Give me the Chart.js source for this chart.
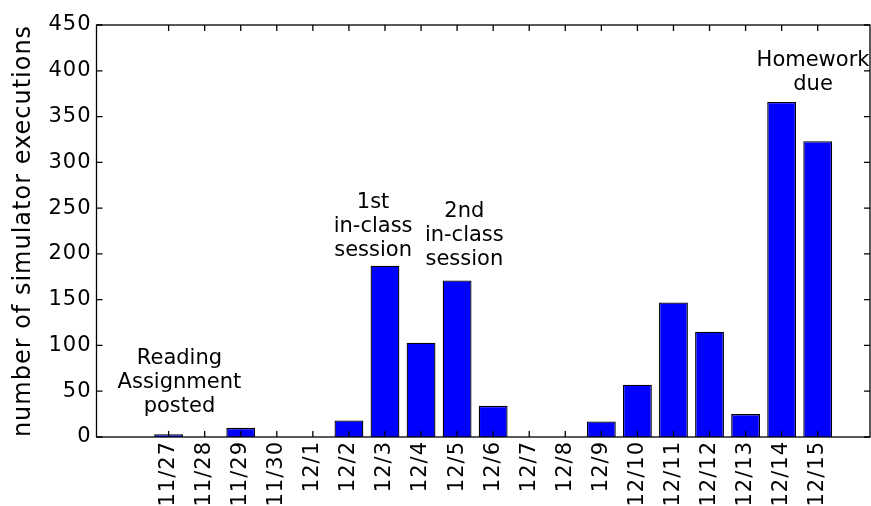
<!DOCTYPE html>
<html>
<head>
<meta charset="utf-8">
<script src="https://cdn.jsdelivr.net/npm/chart.js@4.4.0/dist/chart.umd.min.js"></script>
<style>
  html, body { margin: 0; padding: 0; background: #fff; }
  #wrap { width: 871px; height: 506px; }
</style>
</head>
<body>
<div id="wrap"><canvas id="chart"></canvas></div>
<script>
const dates = ['11/27', '11/28', '11/29', '11/30', '12/1', '12/2', '12/3', '12/4', '12/5', '12/6',
    '12/7', '12/8', '12/9', '12/10', '12/11', '12/12', '12/13', '12/14', '12/15'];
const executions = [3, 0, 10, 0, 0, 18, 187, 103, 171, 34, 0, 0, 17, 57, 147, 115, 25, 366, 323];

const yTicks = [0, 50, 100, 150, 200, 250, 300, 350, 400, 450];

// annotations, anchored in data coordinates (middle of the text block)
const noteLines = [
    ['Reading', 'Assignment', 'posted'],
    ['1st', 'in-class', 'session'],
    ['2nd', 'in-class', 'session'],
    ['Homework', 'due']
];
const noteX = [0.3, 5.67, 8.2, 17.87];
const noteY = [59, 230, 220, 398];

const FONT = "'DejaVu Sans', sans-serif";

// old matplotlib text renders a bit wider, spread the axis text out a little
const spacingPlugin = {
    id: 'spacing',
    beforeDraw(chart) { chart.ctx.letterSpacing = '1px'; },
    beforeDatasetsDraw(chart) { chart.ctx.letterSpacing = '0px'; }
};

const framePlugin = {
    id: 'frame',
    afterDraw(chart) {
        const { ctx, chartArea: a, scales } = chart;
        ctx.save();
        ctx.strokeStyle = '#000';
        ctx.lineWidth = 1.3;
        // inward tick marks on all four sides
        const len = 6;
        ctx.beginPath();
        scales.x.ticks.forEach(t => {
            const px = scales.x.getPixelForValue(t.value);
            ctx.moveTo(px, a.bottom); ctx.lineTo(px, a.bottom - len);
            ctx.moveTo(px, a.top); ctx.lineTo(px, a.top + len);
        });
        scales.y.ticks.forEach(t => {
            const py = scales.y.getPixelForValue(t.value);
            ctx.moveTo(a.left, py); ctx.lineTo(a.left + len, py);
            ctx.moveTo(a.right, py); ctx.lineTo(a.right - len, py);
        });
        ctx.stroke();
        ctx.strokeRect(a.left, a.top, a.right - a.left, a.bottom - a.top);
        ctx.restore();
    }
};

const notesPlugin = {
    id: 'notes',
    afterDatasetsDraw(chart) {
        const { ctx, scales } = chart;
        const lh = 24;
        ctx.save();
        ctx.fillStyle = '#000';
        ctx.font = '21px ' + FONT;
        ctx.textAlign = 'center';
        ctx.textBaseline = 'middle';
        noteLines.forEach((lines, i) => {
            const cx = scales.x.getPixelForValue(noteX[i]);
            const cy = scales.y.getPixelForValue(noteY[i]);
            const start = cy - (lines.length - 1) * lh / 2;
            lines.forEach((txt, j) => ctx.fillText(txt, cx, start + j * lh));
        });
        ctx.restore();
    }
};

new Chart(document.getElementById('chart'), {
    type: 'bar',
    data: {
        datasets: [{
            data: executions.map((v, i) => ({ x: i, y: v })),
            backgroundColor: '#0000ff',
            borderColor: '#000',
            borderWidth: 1.3,
            categoryPercentage: 1,
            barPercentage: 0.8
        }]
    },
    options: {
        responsive: true,
        maintainAspectRatio: false,
        animation: false,
        layout: { padding: { top: 25, right: 1, left: 0, bottom: 0 } },
        plugins: {
            legend: { display: false },
            tooltip: { enabled: false }
        },
        scales: {
            x: {
                type: 'linear',
                offset: false,
                min: -2,
                max: 19.45,
                grid: { display: false, drawTicks: false },
                border: { display: false },
                afterBuildTicks: (scale) => {
                    scale.ticks = dates.map((d, i) => ({ value: i }));
                },
                afterFit: (scale) => { scale.height = 69; },
                ticks: {
                    autoSkip: false,
                    minRotation: 90,
                    maxRotation: 90,
                    padding: 4,
                    color: '#000',
                    font: { family: FONT, size: 21 },
                    callback: (v) => dates[v]
                }
            },
            y: {
                min: 0,
                max: 450,
                grid: { display: false, drawTicks: false },
                border: { display: false },
                afterBuildTicks: (scale) => {
                    scale.ticks = yTicks.map(v => ({ value: v }));
                },
                afterFit: (scale) => { scale.width = 96.5; },
                ticks: {
                    padding: 5,
                    color: '#000',
                    font: { family: FONT, size: 21 }
                },
                title: {
                    display: true,
                    text: 'number of simulator executions',
                    color: '#000',
                    font: { family: FONT, size: 24 },
                    padding: { top: 9, bottom: 0 }
                }
            }
        }
    },
    plugins: [spacingPlugin, framePlugin, notesPlugin]
});
</script>
</body>
</html>
